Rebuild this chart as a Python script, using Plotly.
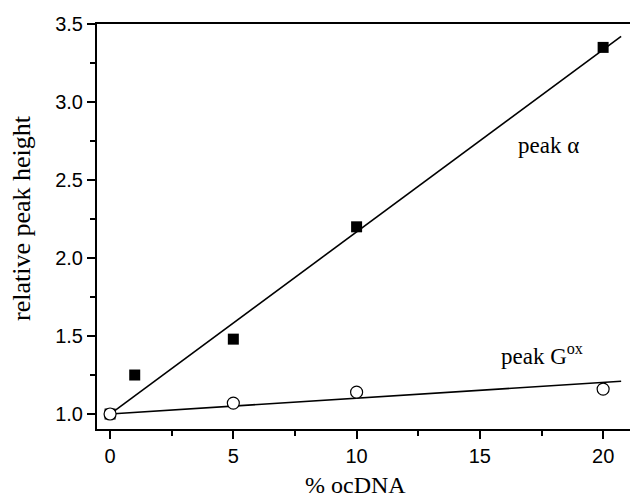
import plotly.graph_objects as go

# Data
alpha_x = [0, 1, 5, 10, 20]
alpha_y = [1.0, 1.25, 1.48, 2.2, 3.35]
gox_x = [0, 5, 10, 20]
gox_y = [1.0, 1.07, 1.14, 1.16]
alpha_fit_x = [0, 20.73]
alpha_fit_y = [1.0, 3.42]
gox_fit_x = [0, 20.73]
gox_fit_y = [1.0, 1.21]

fig = go.Figure()
fig.add_trace(go.Scatter(x=alpha_fit_x, y=alpha_fit_y, mode="lines",
                         line=dict(color="black", width=1.6), showlegend=False))
fig.add_trace(go.Scatter(x=gox_fit_x, y=gox_fit_y, mode="lines",
                         line=dict(color="black", width=1.6), showlegend=False))
fig.add_trace(go.Scatter(x=alpha_x, y=alpha_y, mode="markers",
                         marker=dict(symbol="square", size=11, color="black"),
                         showlegend=False))
fig.add_trace(go.Scatter(x=gox_x, y=gox_y, mode="markers",
                         marker=dict(symbol="circle", size=12, color="white",
                                     line=dict(color="black", width=1.2)),
                         showlegend=False))

fig.add_annotation(x=17.8, y=2.72, text="peak α", showarrow=False,
                   font=dict(family="Liberation Serif", size=23, color="black"))
fig.add_annotation(x=17.5, y=1.38, text="peak G<sup>ox</sup>", showarrow=False,
                   font=dict(family="Liberation Serif", size=23, color="black"))

# axis titles
fig.add_annotation(xref="paper", yref="paper", x=(355 - 97) / 533, y=-(485 - 429) / 405,
                   text="% ocDNA", showarrow=False, xanchor="center", yanchor="middle",
                   font=dict(family="Liberation Serif", size=24, color="black"))
fig.add_annotation(xref="paper", yref="paper", x=-(97 - 22) / 533, y=(429 - 218) / 405,
                   text="relative peak height", showarrow=False, textangle=-90,
                   xanchor="center", yanchor="middle",
                   font=dict(family="Liberation Serif", size=26, color="black"))

tickfont = dict(family="Liberation Sans", size=20, color="black")
fig.update_layout(
    width=630, height=499,
    margin=dict(l=97, r=0, t=24, b=70),
    plot_bgcolor="white", paper_bgcolor="white",
    xaxis=dict(range=[-0.53, 21.09], tickvals=[0, 5, 10, 15, 20], automargin=False,
               showline=True, linecolor="black", linewidth=2, mirror=True,
               ticks="outside", ticklen=8, tickwidth=1.5, tickcolor="black",
               minor=dict(ticks="outside", ticklen=5, dtick=2.5, tickcolor="black", tickwidth=1.5),
               showgrid=False, zeroline=False, tickfont=tickfont),
    yaxis=dict(range=[0.904, 3.5], tickvals=[1.0, 1.5, 2.0, 2.5, 3.0, 3.5], automargin=False,
               ticktext=["1.0", "1.5", "2.0", "2.5", "3.0", "3.5"],
               showline=True, linecolor="black", linewidth=2,
               ticks="outside", ticklen=8, tickwidth=1.5, tickcolor="black",
               minor=dict(ticks="outside", ticklen=5, dtick=0.25, tickcolor="black", tickwidth=1.5),
               showgrid=False, zeroline=False, tickfont=tickfont),
)

fig.write_html("out.html", config={"displayModeBar": False},
               post_script="document.body.style.margin='0';document.body.style.overflow='hidden';")
